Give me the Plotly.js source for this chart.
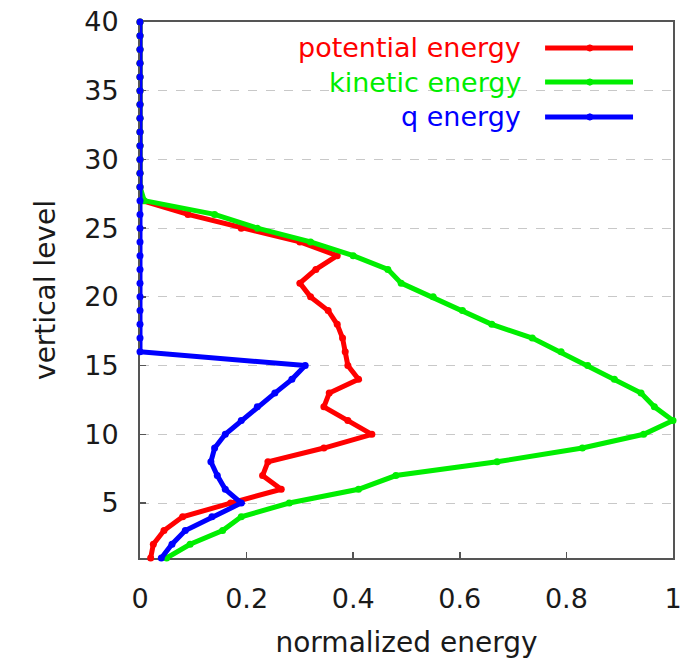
<!DOCTYPE html>
<html>
<head>
<meta charset="utf-8">
<script src="https://cdn.plot.ly/plotly-3.0.1.min.js"></script>
<style>
html,body{margin:0;padding:0;background:#fff;}
#chart{width:681px;height:659px;}
</style>
</head>
<body>
<div id="chart"></div>
<script>
// vertical levels 1..40
const levels = [1,2,3,4,5,6,7,8,9,10,11,12,13,14,15,16,17,18,19,20,
                21,22,23,24,25,26,27,28,29,30,31,32,33,34,35,36,37,38,39,40];

const potentialEnergy = [0.02,0.025,0.045,0.08,0.17,0.265,0.23,0.24,0.345,0.435,
                         0.39,0.345,0.355,0.41,0.39,0.385,0.38,0.37,0.353,0.32,
                         0.30,0.33,0.37,0.30,0.19,0.09,0.005,0,0,0,
                         0,0,0,0,0,0,0,0,0,0];

const kineticEnergy = [0.05,0.094,0.155,0.19,0.28,0.41,0.48,0.67,0.83,0.945,
                       1.0,0.965,0.94,0.89,0.84,0.79,0.736,0.66,0.605,0.55,
                       0.49,0.465,0.40,0.32,0.22,0.14,0.008,0,0,0,
                       0,0,0,0,0,0,0,0,0,0];

const qEnergy = [0.04,0.06,0.085,0.135,0.19,0.16,0.145,0.133,0.14,0.16,
                 0.19,0.22,0.253,0.285,0.31,0,0,0,0,0,
                 0,0,0,0,0,0,0,0,0,0,
                 0,0,0,0,0,0,0,0,0,0];

const seriesNames = ["potential energy","kinetic energy","q energy"];
const seriesColors = ["#ff0000","#00ee00","#0000ff"];
const xTicks = [0,0.2,0.4,0.6,0.8,1];
const yTicks = [5,10,15,20,25,30,35,40];

const FONT = "DejaVu Sans, Liberation Sans, Arial, sans-serif";
const TXT = "#1a1a1a";
const seriesData = [potentialEnergy, kineticEnergy, qEnergy];

const traces = seriesData.map((vals, i) => ({
  type: "scatter",
  mode: "lines+markers",
  x: vals,
  y: levels,
  name: seriesNames[i],
  line: {color: seriesColors[i], width: 5},
  marker: {color: seriesColors[i], size: 7},
  showlegend: false,
  cliponaxis: false
}));

// legend drawn at top-right: colored text with line sample on its right
const legendRowsY = [0.9515, 0.888, 0.8228];
const annotations = seriesNames.map((n, i) => ({
  xref: "paper", yref: "paper",
  x: 0.7186, y: legendRowsY[i],
  xanchor: "right", yanchor: "middle",
  text: n, showarrow: false,
  font: {family: FONT, size: 27, color: seriesColors[i]}
}));
const shapes = [];
seriesNames.forEach((n, i) => {
  shapes.push({type: "line", xref: "paper", yref: "paper",
    x0: 0.760, x1: 0.925, y0: legendRowsY[i], y1: legendRowsY[i],
    line: {color: seriesColors[i], width: 5}});
  shapes.push({type: "circle", xref: "paper", yref: "paper",
    x0: 0.844 - 0.0058, x1: 0.844 + 0.0058,
    y0: legendRowsY[i] - 0.0058, y1: legendRowsY[i] + 0.0058,
    fillcolor: seriesColors[i], line: {color: seriesColors[i], width: 1}});
});

const layout = {
  width: 681, height: 659,
  margin: {l: 140, r: 8, t: 22, b: 101},
  paper_bgcolor: "#ffffff",
  plot_bgcolor: "#ffffff",
  font: {family: FONT, size: 27, color: TXT},
  xaxis: {
    range: [0, 1],
    tickvals: xTicks,
    ticks: "inside", ticklen: 6, tickcolor: "#555", tickwidth: 1.5,
    showgrid: false, zeroline: false,
    showline: true, linecolor: "#555", linewidth: 2, mirror: true,
    layer: "below traces",
    ticklabelstandoff: 16,
    ticklabeloverflow: "allow",
    tickfont: {family: FONT, size: 27, color: TXT},
    title: {text: "normalized energy", standoff: 22,
            font: {family: FONT, size: 28, color: TXT}}
  },
  yaxis: {
    range: [1, 40],
    tickvals: yTicks,
    ticks: "inside", ticklen: 6, tickcolor: "#555", tickwidth: 1.5,
    showgrid: true, gridcolor: "#c8c8c8", griddash: "dash", gridwidth: 1,
    zeroline: false,
    showline: true, linecolor: "#555", linewidth: 2, mirror: true,
    layer: "below traces",
    ticklabelstandoff: 14,
    tickfont: {family: FONT, size: 27, color: TXT},
    title: {text: "vertical level", standoff: 20,
            font: {family: FONT, size: 28, color: TXT}}
  },
  annotations: annotations,
  shapes: shapes,
  showlegend: false
};

Plotly.newPlot("chart", traces, layout, {staticPlot: true, displayModeBar: false});
</script>
</body>
</html>
